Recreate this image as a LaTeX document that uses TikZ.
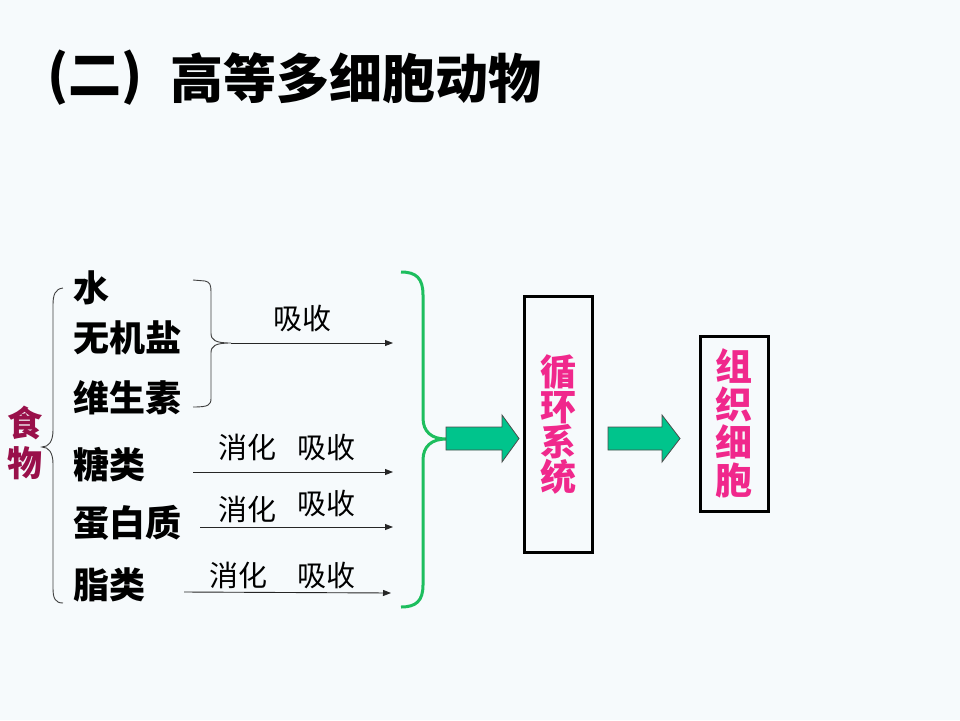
\documentclass[tikz,border=0pt]{standalone}
\usepackage{fontspec}
\setmainfont{Liberation Serif}
\newfontfamily\cjk{Noto Sans CJK SC}
\usetikzlibrary{arrows.meta}
\definecolor{gbrace}{HTML}{1DBE5E}
\definecolor{garrow}{HTML}{00C48C}
\definecolor{pinktxt}{HTML}{F0288C}
\definecolor{foodred}{HTML}{99104A}
\definecolor{bgcol}{HTML}{F6FAFC}
\begin{document}
\begin{tikzpicture}[x=1pt,y=-1pt,
  item/.style={anchor=west, font=\cjk\bfseries\fontsize{36}{38}\selectfont, inner sep=0pt},
  lbl/.style={font=\cjk\fontsize{29}{30}\selectfont, inner sep=0pt},
  flow/.style={-{Triangle[length=8pt,width=6pt]}, line width=0.9pt, draw=black!85},
  thinbrace/.style={line width=0.9pt, draw=black!75},
  bigbox/.style={draw=black, line width=3pt, minimum width=68pt, inner sep=0pt,
     align=center, text=pinktxt},
  blockarrow/.style={fill=garrow, draw=black!70, line width=0.8pt, line join=miter},
  titlefont/.style={font=\cjk\bfseries\fontsize{53}{55}\selectfont, inner sep=0pt}]
\fill[bgcol] (0,0) rectangle (960,720);
\useasboundingbox (0,0) rectangle (960,720);

% title
\node[titlefont] (tpar) at (95,78) {(二)};
\node[titlefont, anchor=west] (ttext) at (170,78) {高等多细胞动物};

% food label
\node[font=\cjk\bfseries\fontsize{35}{40}\selectfont, text=foodred, align=center, inner sep=0pt] (food) at (25,443) {食\\物};

% items
\node[item] (water) at (73,288) {水};
\node[item] (salt) at (73,338) {无机盐};
\node[item] (vit) at (73,398) {维生素};
\node[item] (sugar) at (73,465) {糖类};
\node[item] (prot) at (73,523) {蛋白质};
\node[item] (fat) at (73,585) {脂类};

% left brace
\draw[thinbrace] (63,288) .. controls (55,289) and (53,295) .. (53,305) -- (53,430)
  .. controls (53,441) and (49,447) .. (42,447)
  .. controls (49,447) and (53,453) .. (53,464) -- (53,588)
  .. controls (53,598) and (55,603) .. (63,603);

% small right brace
\coordinate (sbtip) at (231,343);
\draw[thinbrace] (193,280) -- (205,281) .. controls (210,282) and (211,285) .. (211,292) -- (211,333)
  .. controls (211,340) and (215,343) .. (sbtip)
  .. controls (215,343) and (211,346) .. (211,353) -- (211,398)
  .. controls (211,405) and (209,407) .. (193,407);

% arrow ends
\coordinate (e1) at (393,343);
\coordinate (e2) at (393,472);
\coordinate (e3) at (393,527);
\coordinate (e4) at (391,593);
\coordinate (s2) at (193,472);
\coordinate (s3) at (200,527);
\coordinate (s4) at (184,592);

\draw[flow] (sbtip) -- (e1);
\draw[flow] (s2) -- (e2);
\draw[flow] (s3) -- (e3);
\draw[flow] (s4) -- (e4);

\node[lbl] (l1) at (302,318) {吸收};
\node[lbl] (l2a) at (247,447) {消化};
\node[lbl] (l2b) at (326,447) {吸收};
\node[lbl] (l3a) at (247,509) {消化};
\node[lbl] (l3b) at (326,503) {吸收};
\node[lbl] (l4a) at (238,575) {消化};
\node[lbl] (l4b) at (326,575) {吸收};

% green brace
\coordinate (gtip) at (446,439);
\draw[gbrace, line width=3pt] (401,272) .. controls (416,272) and (423,278) .. (423,295) -- (423,418)
  .. controls (423,432) and (432,439) .. (gtip)
  .. controls (432,439) and (423,446) .. (423,460) -- (423,585)
  .. controls (423,601) and (416,607) .. (401,607);

% boxes
\node[bigbox, minimum height=256pt, font=\cjk\bfseries\fontsize{36}{35}\selectfont] (circ) at (558,424) {循\\环\\系\\统};
\node[bigbox, minimum height=175pt, font=\cjk\bfseries\fontsize{37}{38}\selectfont] (cell) at (734,423.5) {组\\织\\细\\胞};

% block arrows
\draw[blockarrow] (gtip |- 0,427) -- (502,427) -- (502,415) -- (519,438.5) -- (502,462) -- (502,450) -- (gtip |- 0,450) -- cycle;
\draw[blockarrow] (608,427) -- (662,427) -- (662,415) -- (680,438.5) -- (662,462) -- (662,450) -- (608,450) -- cycle;
\end{tikzpicture}
\end{document}
